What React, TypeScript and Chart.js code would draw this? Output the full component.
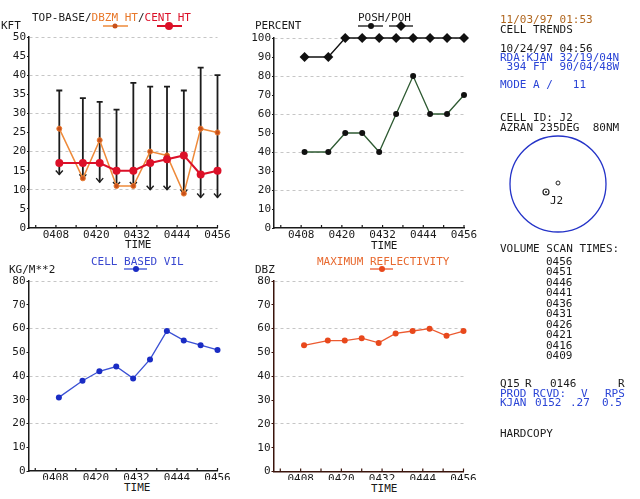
import React, { useEffect, useRef } from "react";
import { Chart, registerables } from "chart.js";

Chart.register(...registerables);

// ---------- data ----------
const volumeScanTimes = ["0456", "0451", "0446", "0441", "0436", "0431", "0426", "0421", "0416", "0409"];
const scanMinutes = [9, 16, 21, 26, 31, 36, 41, 46, 51, 56]; // minutes after 04:00
const xTickMinutes = [2, 8, 14, 20, 26, 32, 38, 44, 50, 56];
const xLabelMinutes = [8, 20, 32, 44, 56];

const kftTicks = [0, 5, 10, 15, 20, 25, 30, 35, 40, 45, 50];
const percentTicks = [0, 10, 20, 30, 40, 50, 60, 70, 80, 90, 100];
const eightyTicks = [0, 10, 20, 30, 40, 50, 60, 70, 80];

const cellTopKft = [36, 34, 33, 31, 38, 37, 37, 36, 42, 40];
const cellBaseKft = [14, 13, 12, 11, 11, 10, 10, 9, 8, 8];
const dbzmHtKft = [26, 13, 23, 11, 11, 20, 19, 9, 26, 25];
const centHtKft = [17, 17, 17, 15, 15, 17, 18, 19, 14, 15];
const poshPct = [40, 40, 50, 50, 40, 60, 80, 60, 60, 70];
const pohPct = [90, 90, 100, 100, 100, 100, 100, 100, 100, 100];
const vilKgM2 = [31, 38, 42, 44, 39, 47, 59, 55, 53, 51];
const maxReflDbz = [53, 55, 55, 56, 54, 58, 59, 60, 57, 59];

// ---------- style ----------
const MONO = '"DejaVu Sans Mono", "Liberation Mono", monospace';
const BLUE_TXT = "#2a44d6";
const ORANGE = "#ee8a3a";
const RED = "#dc1028";
const VIL_BLUE = "#1a2cc4";
const REFL = "#e8481c";

const pts = (vals: number[]) => scanMinutes.map((m, i) => ({ x: m, y: vals[i] }));

type Box = { x: number; y: number; w: number; h: number };
type Area = { l: number; t: number; r: number; b: number };

function Panel(props: {
  box: Box;
  area: Area;
  yMax: number;
  yTicks: number[];
  gridEvery: number;
  axisColor: string;
  datasets: any[];
  extraPlugins?: any[];
}) {
  const ref = useRef<HTMLCanvasElement>(null);
  useEffect(() => {
    const { box, area, yMax, yTicks, gridEvery, axisColor, datasets, extraPlugins } = props;
    const canvas = ref.current as HTMLCanvasElement;
    const inwardTicks = {
      id: "inwardTicks",
      afterDatasetsDraw(chart: any) {
        const { ctx, chartArea, scales } = chart;
        ctx.save();
        ctx.strokeStyle = axisColor;
        ctx.lineWidth = 1.2;
        scales.x.ticks.forEach((t: any) => {
          const px = scales.x.getPixelForValue(t.value);
          ctx.beginPath();
          ctx.moveTo(px, chartArea.bottom);
          ctx.lineTo(px, chartArea.bottom - 3);
          ctx.stroke();
        });
        ctx.restore();
      },
    };
    const chart = new Chart(canvas, {
      type: "line",
      data: { datasets: datasets.map((d) => ({ ...d, clip: false, tension: 0 })) },
      options: {
        responsive: false,
        animation: false,
        events: [],
        layout: {
          padding: {
            left: 0,
            top: area.t - box.y,
            right: box.x + box.w - area.r,
            bottom: 0,
          },
        },
        plugins: { legend: { display: false }, tooltip: { enabled: false }, title: { display: false } },
        scales: {
          x: {
            type: "linear",
            min: 0,
            max: 56,
            afterBuildTicks: (s: any) => {
              s.ticks = xTickMinutes.map((v) => ({ value: v }));
            },
            afterFit: (s: any) => {
              s.height = box.y + box.h - area.b;
            },
            ticks: {
              autoSkip: false,
              maxRotation: 0,
              minRotation: 0,
              padding: 1,
              color: "#1a1a1a",
              font: { family: MONO, size: 11 },
              callback: (v: any) => (xLabelMinutes.includes(Number(v)) ? "04" + String(v).padStart(2, "0") : ""),
            },
            grid: { display: true, drawOnChartArea: false, drawTicks: false },
            border: { display: true, color: axisColor, width: 1.5 },
          },
          y: {
            type: "linear",
            min: 0,
            max: yMax,
            afterBuildTicks: (s: any) => {
              s.ticks = yTicks.map((v) => ({ value: v }));
            },
            afterFit: (s: any) => {
              s.width = area.l - box.x;
            },
            ticks: {
              autoSkip: false,
              padding: 1,
              color: "#1a1a1a",
              font: { family: MONO, size: 11 },
            },
            grid: {
              drawTicks: true,
              tickLength: 2,
              tickColor: axisColor,
              tickBorderDash: [],
              lineWidth: 1,
              color: (ctx: any) =>
                ctx.tick && ctx.tick.value > 0 && ctx.tick.value % gridEvery === 0 ? "#c6c6c6" : "rgba(0,0,0,0)",
            },
            border: { display: true, color: axisColor, width: 1.5, dash: [3, 3] },
          },
        },
      } as any,
      plugins: [inwardTicks, ...(extraPlugins || [])],
    });
    return () => chart.destroy();
  }, []);
  const { box } = props;
  return (
    <canvas
      ref={ref}
      width={box.w}
      height={box.h}
      style={{ position: "absolute", left: box.x, top: box.y, width: box.w, height: box.h }}
    />
  );
}

const whiskerPlugin = {
  id: "whiskers",
  beforeDatasetsDraw(chart: any) {
    const { ctx, scales } = chart;
    const x = scales.x;
    const y = scales.y;
    ctx.save();
    ctx.strokeStyle = "#1c1c1c";
    scanMinutes.forEach((m, i) => {
      const px = x.getPixelForValue(m);
      const pt = y.getPixelForValue(cellTopKft[i]);
      const pb = y.getPixelForValue(cellBaseKft[i]);
      ctx.lineWidth = 1.8;
      ctx.beginPath();
      ctx.moveTo(px, pt);
      ctx.lineTo(px, pb);
      ctx.moveTo(px - 3, pt);
      ctx.lineTo(px + 3, pt);
      ctx.stroke();
      ctx.lineWidth = 1.4;
      ctx.beginPath();
      ctx.moveTo(px - 3.5, pb - 4);
      ctx.lineTo(px, pb);
      ctx.lineTo(px + 3.5, pb - 4);
      ctx.stroke();
    });
    ctx.restore();
  },
};

function T(props: { x: number; y: number; color?: string; children: any }) {
  return (
    <div
      style={{
        position: "absolute",
        left: props.x,
        top: props.y - 6.5,
        lineHeight: "13px",
        fontSize: 11,
        fontFamily: MONO,
        color: props.color || "#1a1a1a",
        whiteSpace: "pre",
      }}
    >
      {props.children}
    </div>
  );
}

export default function App() {
  useEffect(() => {
    document.body.style.margin = "0";
  }, []);

  const topLeftSets = [
    {
      label: "CENT HT",
      data: pts(centHtKft),
      borderColor: RED,
      backgroundColor: RED,
      borderWidth: 2,
      pointRadius: 4,
      pointBorderWidth: 0,
      pointStyle: "circle",
    },
    {
      label: "DBZM HT",
      data: pts(dbzmHtKft),
      borderColor: ORANGE,
      backgroundColor: "#c8501a",
      borderWidth: 1.5,
      pointRadius: 2.5,
      pointBorderWidth: 1,
      pointBorderColor: "#e87a30",
    },
  ];
  const topMidSets = [
    {
      label: "POH",
      data: pts(pohPct),
      borderColor: "#111",
      backgroundColor: "#111",
      borderWidth: 1.3,
      pointRadius: 5,
      pointStyle: "rectRot",
      pointBorderWidth: 0,
    },
    {
      label: "POSH",
      data: pts(poshPct),
      borderColor: "#2e5a32",
      backgroundColor: "#111",
      borderWidth: 1.3,
      pointRadius: 3,
      pointBorderWidth: 0,
    },
  ];
  const vilSets = [
    {
      label: "CELL BASED VIL",
      data: pts(vilKgM2),
      borderColor: "#3a50d4",
      backgroundColor: VIL_BLUE,
      borderWidth: 1.3,
      pointRadius: 3,
      pointBorderWidth: 0,
    },
  ];
  const reflSets = [
    {
      label: "MAXIMUM REFLECTIVITY",
      data: pts(maxReflDbz),
      borderColor: "#ec5a30",
      backgroundColor: REFL,
      borderWidth: 1.3,
      pointRadius: 3,
      pointBorderWidth: 0,
    },
  ];

  return (
    <div
      style={{
        position: "absolute",
        left: 0,
        top: 0,
        width: 640,
        height: 499,
        background: "#fff",
        overflow: "hidden",
        fontFamily: MONO,
      }}
    >
      <svg width={640} height={499} style={{ position: "absolute", left: 0, top: 0 }}>
        {/* legend swatches */}
        <line x1={103} y1={26} x2={128} y2={26} stroke={ORANGE} strokeWidth={1.5} />
        <circle cx={115} cy={26} r={2.5} fill="#c8501a" />
        <line x1={157} y1={26} x2={182} y2={26} stroke={RED} strokeWidth={2} />
        <circle cx={169} cy={26} r={4} fill={RED} />
        <line x1={358} y1={26} x2={383} y2={26} stroke="#111" strokeWidth={1.3} />
        <circle cx={371} cy={26} r={3} fill="#111" />
        <line x1={389} y1={26} x2={413} y2={26} stroke="#111" strokeWidth={1.3} />
        <polygon points="401,21 406,26 401,31 396,26" fill="#111" />
        <line x1={124} y1={269} x2={147} y2={269} stroke="#3a50d4" strokeWidth={1.3} />
        <circle cx={136} cy={269} r={3} fill={VIL_BLUE} />
        <line x1={370} y1={269} x2={393} y2={269} stroke="#ec5a30" strokeWidth={1.3} />
        <circle cx={382} cy={269} r={3} fill={REFL} />
        {/* cell position diagram */}
        <circle cx={558} cy={184} r={48} fill="none" stroke="#2433c8" strokeWidth={1.3} />
        <circle cx={558} cy={183} r={2} fill="none" stroke="#222" strokeWidth={1} />
        <circle cx={546} cy={192} r={3} fill="none" stroke="#222" strokeWidth={1.2} />
        <circle cx={546} cy={192} r={1} fill="#222" />
      </svg>

      <Panel
        box={{ x: 0, y: 0, w: 240, h: 242 }}
        area={{ l: 29, t: 37, r: 217.5, b: 228 }}
        yMax={50}
        yTicks={kftTicks}
        gridEvery={10}
        axisColor="#1a1a1a"
        datasets={topLeftSets}
        extraPlugins={[whiskerPlugin]}
      />
      <Panel
        box={{ x: 240, y: 0, w: 240, h: 242 }}
        area={{ l: 274, t: 38, r: 464, b: 228 }}
        yMax={100}
        yTicks={percentTicks}
        gridEvery={20}
        axisColor="#1a1a1a"
        datasets={topMidSets}
      />
      <Panel
        box={{ x: 0, y: 245, w: 240, h: 235 }}
        area={{ l: 28.5, t: 281, r: 217.5, b: 471 }}
        yMax={80}
        yTicks={eightyTicks}
        gridEvery={20}
        axisColor="#1a1a1a"
        datasets={vilSets}
      />
      <Panel
        box={{ x: 240, y: 245, w: 240, h: 235 }}
        area={{ l: 273.5, t: 281, r: 463.5, b: 471.5 }}
        yMax={80}
        yTicks={eightyTicks}
        gridEvery={20}
        axisColor="#3a140c"
        datasets={reflSets}
      />

      {/* top-left headings */}
      <T x={32} y={17}>
        TOP-BASE/<span style={{ color: "#e8782a" }}>DBZM HT</span>/<span style={{ color: RED }}>CENT HT</span>
      </T>
      <T x={1} y={25}>KFT</T>
      <T x={125} y={244}>TIME</T>

      {/* top-middle headings */}
      <T x={358} y={17}>POSH/POH</T>
      <T x={255} y={25}>PERCENT</T>
      <T x={371} y={245}>TIME</T>

      {/* bottom-left headings */}
      <T x={91} y={261} color="#3a48d0">CELL BASED VIL</T>
      <T x={9} y={269}>KG/M**2</T>
      <T x={124} y={487}>TIME</T>

      {/* bottom-middle headings */}
      <T x={317} y={261} color="#e86a30">MAXIMUM REFLECTIVITY</T>
      <T x={255} y={269}>DBZ</T>
      <T x={371} y={488}>TIME</T>

      {/* right info panel */}
      <T x={500} y={19} color="#b0661e">11/03/97 01:53</T>
      <T x={500} y={29}>CELL TRENDS</T>
      <T x={500} y={48}>10/24/97 04:56</T>
      <T x={500} y={57} color={BLUE_TXT}>RDA:KJAN 32/19/04N</T>
      <T x={500} y={66} color={BLUE_TXT}> 394 FT  90/04/48W</T>
      <T x={500} y={84} color={BLUE_TXT}>MODE A /   11</T>
      <T x={500} y={117}>CELL ID: J2</T>
      <T x={500} y={127}>AZRAN 235DEG  80NM</T>
      <T x={550} y={200}>J2</T>
      <T x={500} y={248}>VOLUME SCAN TIMES:</T>
      {volumeScanTimes.map((t, i) => (
        <T key={t} x={546} y={261 + i * 10.5}>
          {t}
        </T>
      ))}
      <T x={500} y={383}>Q15</T>
      <T x={525} y={383}>R</T>
      <T x={550} y={383}>0146</T>
      <T x={618} y={383}>R</T>
      <T x={500} y={393.5} color={BLUE_TXT}>PROD</T>
      <T x={533} y={393.5} color={BLUE_TXT}>RCVD:</T>
      <T x={581} y={393.5} color={BLUE_TXT}>V</T>
      <T x={605} y={393.5} color={BLUE_TXT}>RPS</T>
      <T x={500} y={402} color={BLUE_TXT}>KJAN</T>
      <T x={535} y={402} color={BLUE_TXT}>0152</T>
      <T x={570} y={402} color={BLUE_TXT}>.27</T>
      <T x={602} y={402} color={BLUE_TXT}>0.5</T>
      <T x={500} y={433}>HARDCOPY</T>
    </div>
  );
}
